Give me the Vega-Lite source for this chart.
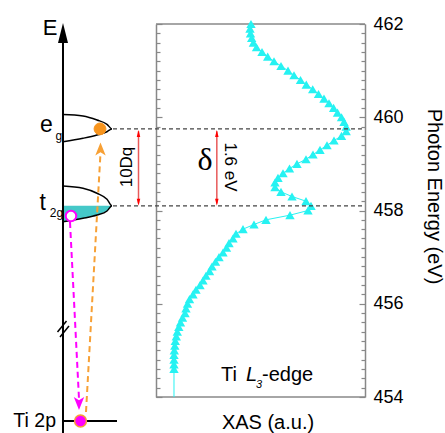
{
  "$schema": "https://vega.github.io/schema/vega-lite/v6.json",
  "width": 365,
  "height": 373,
  "autosize": {"type": "none"},
  "padding": {"left": 0, "top": 24, "right": 80, "bottom": 36},
  "background": "white",
  "config": {"view": {"stroke": null}, "font": "Liberation Sans"},
  "datasets": {
    "xas": [
      {"E": 462.0, "xas": 45.45}, {"E": 461.9, "xas": 44.98}, {"E": 461.8, "xas": 45.22}, {"E": 461.7, "xas": 45.79},
      {"E": 461.6, "xas": 46.6}, {"E": 461.5, "xas": 48.09}, {"E": 461.4, "xas": 50.72}, {"E": 461.3, "xas": 53.44},
      {"E": 461.2, "xas": 56.46}, {"E": 461.1, "xas": 59.81}, {"E": 461.0, "xas": 63.16}, {"E": 460.9, "xas": 66.03},
      {"E": 460.8, "xas": 69.14}, {"E": 460.7, "xas": 71.91}, {"E": 460.6, "xas": 74.98}, {"E": 460.5, "xas": 77.75},
      {"E": 460.4, "xas": 80.38}, {"E": 460.3, "xas": 82.78}, {"E": 460.2, "xas": 84.98}, {"E": 460.1, "xas": 86.84},
      {"E": 460.0, "xas": 88.76}, {"E": 459.9, "xas": 89.95}, {"E": 459.8, "xas": 91.0}, {"E": 459.7, "xas": 91.0},
      {"E": 459.6, "xas": 88.76}, {"E": 459.5, "xas": 85.17}, {"E": 459.4, "xas": 81.82}, {"E": 459.3, "xas": 78.47},
      {"E": 459.2, "xas": 75.12}, {"E": 459.1, "xas": 71.77}, {"E": 459.0, "xas": 67.46}, {"E": 458.9, "xas": 63.88},
      {"E": 458.8, "xas": 60.77}, {"E": 458.7, "xas": 58.37}, {"E": 458.6, "xas": 56.94}, {"E": 458.5, "xas": 56.94},
      {"E": 458.4, "xas": 59.81}, {"E": 458.3, "xas": 65.07}, {"E": 458.2, "xas": 71.77}, {"E": 458.1, "xas": 74.16},
      {"E": 458.0, "xas": 72.73}, {"E": 457.9, "xas": 64.11}, {"E": 457.8, "xas": 52.63}, {"E": 457.7, "xas": 46.89},
      {"E": 457.6, "xas": 41.63}, {"E": 457.5, "xas": 38.28}, {"E": 457.4, "xas": 36.84}, {"E": 457.3, "xas": 34.93},
      {"E": 457.2, "xas": 33.73}, {"E": 457.1, "xas": 32.06}, {"E": 457.0, "xas": 30.14}, {"E": 456.9, "xas": 28.47},
      {"E": 456.8, "xas": 26.79}, {"E": 456.7, "xas": 25.6}, {"E": 456.6, "xas": 23.92}, {"E": 456.5, "xas": 22.49},
      {"E": 456.4, "xas": 21.05}, {"E": 456.3, "xas": 19.14}, {"E": 456.2, "xas": 17.7}, {"E": 456.1, "xas": 16.03},
      {"E": 456.0, "xas": 15.07}, {"E": 455.9, "xas": 14.35}, {"E": 455.8, "xas": 13.88}, {"E": 455.7, "xas": 12.68},
      {"E": 455.6, "xas": 11.72}, {"E": 455.5, "xas": 10.91}, {"E": 455.4, "xas": 10.19}, {"E": 455.3, "xas": 9.71},
      {"E": 455.2, "xas": 9.23}, {"E": 455.1, "xas": 9.0}, {"E": 455.0, "xas": 8.76}, {"E": 454.9, "xas": 8.61},
      {"E": 454.8, "xas": 8.61}, {"E": 454.7, "xas": 8.61}, {"E": 454.6, "xas": 8.61}, {"E": 454.0, "xas": 8.61}
    ],
    "levels": [
      {"lvl": "eg", "i": 0, "x": -44.5, "E": 460.059}, {"lvl": "eg", "i": 1, "x": -34.93, "E": 460.027},
      {"lvl": "eg", "i": 2, "x": -28.23, "E": 459.941}, {"lvl": "eg", "i": 3, "x": -23.44, "E": 459.849},
      {"lvl": "eg", "i": 4, "x": -21.05, "E": 459.75}, {"lvl": "eg", "i": 5, "x": -23.44, "E": 459.69},
      {"lvl": "eg", "i": 6, "x": -28.23, "E": 459.619}, {"lvl": "eg", "i": 7, "x": -34.93, "E": 459.549},
      {"lvl": "eg", "i": 8, "x": -44.5, "E": 459.476},
      {"lvl": "t2g", "i": 0, "x": -44.5, "E": 458.525}, {"lvl": "t2g", "i": 1, "x": -34.93, "E": 458.476},
      {"lvl": "t2g", "i": 2, "x": -28.23, "E": 458.369}, {"lvl": "t2g", "i": 3, "x": -23.44, "E": 458.24},
      {"lvl": "t2g", "i": 4, "x": -21.05, "E": 458.1}, {"lvl": "t2g", "i": 5, "x": -23.44, "E": 457.989},
      {"lvl": "t2g", "i": 6, "x": -28.23, "E": 457.903}, {"lvl": "t2g", "i": 7, "x": -34.93, "E": 457.833},
      {"lvl": "t2g", "i": 8, "x": -44.5, "E": 457.76}
    ],
    "hatch": [
      {"x": -44.5, "lo": 457.76}, {"x": -34.93, "lo": 457.833}, {"x": -28.23, "lo": 457.903},
      {"x": -23.44, "lo": 457.989}, {"x": -21.05, "lo": 458.1}
    ],
    "dash": [{"E": 459.75}, {"E": 458.1}],
    "redheads": [
      {"x": -8.37, "E": 459.652, "d": "up"}, {"x": -8.37, "E": 458.178, "d": "down"},
      {"x": 29.1, "E": 459.652, "d": "up"}, {"x": 29.1, "E": 458.178, "d": "down"}
    ],
    "redlines": [{"x": -8.37}, {"x": 29.1}]
  },
  "resolve": {"axis": {"y": "independent"}},
  "layer": [
    {
      "data": {"values": [{}]},
      "mark": {"type": "rule", "color": "#888888", "strokeWidth": 1.5},
      "encoding": {
        "x": {"datum": 0, "type": "quantitative", "scale": {"domain": [-74.64, 100], "nice": false, "zero": false}, "axis": null},
        "x2": {"datum": 100},
        "y": {"datum": 462, "type": "quantitative", "scale": {"domain": [454, 462], "nice": false, "zero": false},
          "axis": {"orient": "left", "offset": -156, "values": [454, 456, 458, 460, 462], "tickSize": -6, "tickColor": "#888888", "tickWidth": 1.2, "labels": false, "title": null, "domainColor": "#888888", "domainWidth": 1.5, "grid": false}}
      }
    },
    {
      "data": {"values": [{}]},
      "mark": {"type": "rule", "color": "#888888", "strokeWidth": 1.5},
      "encoding": {
        "x": {"datum": 0, "type": "quantitative", "axis": null},
        "x2": {"datum": 100},
        "y": {"datum": 454, "type": "quantitative",
          "axis": {"orient": "left", "offset": -156, "values": [454.2, 454.4, 454.6, 454.8, 455, 455.2, 455.4, 455.6, 455.8, 456.2, 456.4, 456.6, 456.8, 457, 457.2, 457.4, 457.6, 457.8, 458.2, 458.4, 458.6, 458.8, 459, 459.2, 459.4, 459.6, 459.8, 460.2, 460.4, 460.6, 460.8, 461, 461.2, 461.4, 461.6, 461.8], "tickSize": -4, "tickColor": "#888888", "tickWidth": 1.2, "labels": false, "title": null, "domain": false, "grid": false}}
      }
    },
    {
      "data": {"name": "xas"},
      "mark": {"type": "line", "color": "#26f2f2", "strokeWidth": 1},
      "encoding": {
        "x": {"field": "xas", "type": "quantitative", "axis": null},
        "y": {"field": "E", "type": "quantitative",
          "axis": {"orient": "right", "values": [454, 456, 458, 460, 462], "tickSize": -6, "tickColor": "#888888", "tickWidth": 1.2, "domainColor": "#888888", "domainWidth": 1.5, "grid": false, "labelFontSize": 18, "labelColor": "#000000", "labelPadding": 14, "labelFont": "Liberation Sans",
            "title": "Photon Energy (eV)", "titleFontSize": 20, "titleFontWeight": "normal", "titleColor": "#000000", "titleFont": "Liberation Sans", "titleAngle": 90, "titleX": 68, "titleY": 172, "titleAlign": "center", "titleBaseline": "middle"}},
        "order": {"field": "E", "type": "quantitative"}
      }
    },
    {
      "data": {"name": "xas"},
      "transform": [{"filter": "datum.E >= 454.55"}],
      "mark": {"type": "point", "shape": "triangle-up", "filled": true, "color": "#26f2f2", "opacity": 1, "size": 88},
      "encoding": {
        "x": {"field": "xas", "type": "quantitative", "axis": null},
        "y": {"field": "E", "type": "quantitative",
          "axis": {"orient": "right", "values": [454.2, 454.4, 454.6, 454.8, 455, 455.2, 455.4, 455.6, 455.8, 456.2, 456.4, 456.6, 456.8, 457, 457.2, 457.4, 457.6, 457.8, 458.2, 458.4, 458.6, 458.8, 459, 459.2, 459.4, 459.6, 459.8, 460.2, 460.4, 460.6, 460.8, 461, 461.2, 461.4, 461.6, 461.8], "tickSize": -4, "tickColor": "#888888", "tickWidth": 1.2, "labels": false, "title": null, "domain": false, "grid": false}}
      }
    },
    {
      "data": {"name": "dash"},
      "mark": {"type": "rule", "color": "#444444", "strokeWidth": 1.3, "strokeDash": [4, 3]},
      "encoding": {
        "x": {"datum": -20.57, "type": "quantitative", "axis": null},
        "x2": {"datum": 100},
        "y": {"field": "E", "type": "quantitative", "axis": null}
      }
    },
    {
      "data": {"name": "hatch"},
      "mark": {"type": "area", "color": "#45c8c8", "opacity": 1},
      "encoding": {
        "x": {"field": "x", "type": "quantitative", "axis": null},
        "y": {"field": "lo", "type": "quantitative", "axis": null},
        "y2": {"datum": 458.1}
      }
    },
    {
      "data": {"name": "levels"},
      "mark": {"type": "line", "color": "#000000", "strokeWidth": 1.5, "interpolate": "monotone"},
      "encoding": {
        "x": {"field": "x", "type": "quantitative", "axis": null},
        "y": {"field": "E", "type": "quantitative", "axis": null},
        "detail": {"field": "lvl"},
        "order": {"field": "i", "type": "quantitative"}
      }
    },
    {
      "data": {"values": [{}]},
      "mark": {"type": "rule", "color": "#000000", "strokeWidth": 2},
      "encoding": {
        "x": {"datum": -44.5, "type": "quantitative", "axis": null},
        "y": {"datum": 453.1, "type": "quantitative", "axis": null},
        "y2": {"datum": 461.75}
      }
    },
    {
      "data": {"values": [{}]},
      "mark": {"type": "point", "shape": "M0,-1L0.5,1L-0.5,1Z", "filled": true, "color": "#000000", "opacity": 1, "size": 400},
      "encoding": {
        "x": {"datum": -44.5, "type": "quantitative", "axis": null},
        "y": {"datum": 461.807, "type": "quantitative", "axis": null}
      }
    },
    {
      "data": {"values": [{}]},
      "mark": {"type": "rule", "color": "#000000", "strokeWidth": 1.5},
      "encoding": {
        "x": {"datum": -47.13, "type": "quantitative", "axis": null},
        "y": {"datum": 455.394, "type": "quantitative", "axis": null},
        "x2": {"datum": -42.82},
        "y2": {"datum": 455.63}
      }
    },
    {
      "data": {"values": [{}]},
      "mark": {"type": "rule", "color": "#000000", "strokeWidth": 1.5},
      "encoding": {
        "x": {"datum": -45.93, "type": "quantitative", "axis": null},
        "y": {"datum": 455.287, "type": "quantitative", "axis": null},
        "x2": {"datum": -41.63},
        "y2": {"datum": 455.523}
      }
    },
    {
      "data": {"values": [{}]},
      "mark": {"type": "rule", "color": "#000000", "strokeWidth": 2},
      "encoding": {
        "x": {"datum": -44.5, "type": "quantitative", "axis": null},
        "x2": {"datum": -18.66},
        "y": {"datum": 453.485, "type": "quantitative", "axis": null}
      }
    },
    {
      "data": {"name": "redlines"},
      "mark": {"type": "rule", "color": "#e85a5a", "strokeWidth": 1.5},
      "encoding": {
        "x": {"field": "x", "type": "quantitative", "axis": null},
        "y": {"datum": 459.7, "type": "quantitative", "axis": null},
        "y2": {"datum": 458.15}
      }
    },
    {
      "data": {"name": "redheads"},
      "mark": {"type": "point", "filled": true, "color": "#ff0000", "opacity": 1, "size": 50},
      "encoding": {
        "x": {"field": "x", "type": "quantitative", "axis": null},
        "y": {"field": "E", "type": "quantitative", "axis": null},
        "shape": {"field": "d", "type": "nominal", "scale": {"domain": ["up", "down"], "range": ["M0,-1L0.5,1L-0.5,1Z", "M0,1L0.5,-1L-0.5,-1Z"]}, "legend": null}
      }
    },
    {
      "data": {"values": [{}]},
      "mark": {"type": "rule", "color": "#ff00ff", "strokeWidth": 2, "strokeDash": [6, 4]},
      "encoding": {
        "x": {"datum": -41.15, "type": "quantitative", "axis": null},
        "y": {"datum": 457.753, "type": "quantitative", "axis": null},
        "x2": {"datum": -36.84},
        "y2": {"datum": 453.957}
      }
    },
    {
      "data": {"values": [{}]},
      "mark": {"type": "point", "shape": "M0,1L-0.8,-1L0,-0.5L0.8,-1Z", "filled": true, "color": "#ff00ff", "opacity": 1, "size": 169},
      "encoding": {
        "x": {"datum": -36.84, "type": "quantitative", "axis": null},
        "y": {"datum": 453.861, "type": "quantitative", "axis": null}
      }
    },
    {
      "data": {"values": [{}]},
      "mark": {"type": "rule", "color": "#f7a035", "strokeWidth": 2, "strokeDash": [6, 4]},
      "encoding": {
        "x": {"datum": -33.49, "type": "quantitative", "axis": null},
        "y": {"datum": 453.678, "type": "quantitative", "axis": null},
        "x2": {"datum": -26.56},
        "y2": {"datum": 459.233}
      }
    },
    {
      "data": {"values": [{}]},
      "mark": {"type": "point", "shape": "M0,-1L0.8,1L0,0.5L-0.8,1Z", "filled": true, "color": "#f7a035", "opacity": 1, "size": 169},
      "encoding": {
        "x": {"datum": -26.56, "type": "quantitative", "axis": null},
        "y": {"datum": 459.319, "type": "quantitative", "axis": null}
      }
    },
    {
      "data": {"values": [{}]},
      "mark": {"type": "point", "shape": "circle", "fill": "#f7941d", "stroke": "#f7941d", "strokeWidth": 1, "opacity": 1, "size": 140},
      "encoding": {
        "x": {"datum": -26.79, "type": "quantitative", "axis": null},
        "y": {"datum": 459.75, "type": "quantitative", "axis": null}
      }
    },
    {
      "data": {"values": [{}]},
      "mark": {"type": "point", "shape": "circle", "fill": "#ffffff", "stroke": "#ff00ff", "strokeWidth": 2, "opacity": 1, "size": 110},
      "encoding": {
        "x": {"datum": -40.67, "type": "quantitative", "axis": null},
        "y": {"datum": 457.882, "type": "quantitative", "axis": null}
      }
    },
    {
      "data": {"values": [{}]},
      "mark": {"type": "point", "shape": "circle", "fill": "#ff00ff", "stroke": "#f7a035", "strokeWidth": 1.5, "opacity": 1, "size": 140},
      "encoding": {
        "x": {"datum": -36.12, "type": "quantitative", "axis": null},
        "y": {"datum": 453.485, "type": "quantitative", "axis": null}
      }
    },
    {
      "data": {"values": [{}]},
      "mark": {"type": "text", "text": "E", "fontSize": 22, "align": "center", "baseline": "alphabetic", "color": "#000000"},
      "encoding": {
        "x": {"datum": -50.72, "type": "quantitative", "axis": null},
        "y": {"datum": 461.764, "type": "quantitative", "axis": null}
      }
    },
    {
      "data": {"values": [{}]},
      "mark": {"type": "text", "text": "e", "fontSize": 23, "align": "center", "baseline": "alphabetic", "color": "#000000"},
      "encoding": {
        "x": {"datum": -52.4, "type": "quantitative", "axis": null},
        "y": {"datum": 459.684, "type": "quantitative", "axis": null}
      }
    },
    {
      "data": {"values": [{}]},
      "mark": {"type": "text", "text": "g", "fontSize": 12, "align": "center", "baseline": "alphabetic", "color": "#000000"},
      "encoding": {
        "x": {"datum": -46.5, "type": "quantitative", "axis": null},
        "y": {"datum": 459.51, "type": "quantitative", "axis": null}
      }
    },
    {
      "data": {"values": [{}]},
      "mark": {"type": "text", "text": "t", "fontSize": 23, "align": "center", "baseline": "alphabetic", "color": "#000000"},
      "encoding": {
        "x": {"datum": -54.2, "type": "quantitative", "axis": null},
        "y": {"datum": 458.011, "type": "quantitative", "axis": null}
      }
    },
    {
      "data": {"values": [{}]},
      "mark": {"type": "text", "text": "2g", "fontSize": 12, "align": "center", "baseline": "alphabetic", "color": "#000000"},
      "encoding": {
        "x": {"datum": -47.6, "type": "quantitative", "axis": null},
        "y": {"datum": 457.866, "type": "quantitative", "axis": null}
      }
    },
    {
      "data": {"values": [{}]},
      "mark": {"type": "text", "text": "10Dq", "fontSize": 17, "angle": 270, "align": "center", "baseline": "middle", "color": "#000000"},
      "encoding": {
        "x": {"datum": -13.88, "type": "quantitative", "axis": null},
        "y": {"datum": 458.933, "type": "quantitative", "axis": null}
      }
    },
    {
      "data": {"values": [{}]},
      "mark": {"type": "text", "text": "δ", "font": "Liberation Serif", "fontSize": 32, "align": "center", "baseline": "alphabetic", "color": "#000000"},
      "encoding": {
        "x": {"datum": 23.44, "type": "quantitative", "axis": null},
        "y": {"datum": 458.869, "type": "quantitative", "axis": null}
      }
    },
    {
      "data": {"values": [{}]},
      "mark": {"type": "text", "text": "1.6 eV", "fontSize": 17, "angle": 90, "align": "center", "baseline": "middle", "color": "#000000"},
      "encoding": {
        "x": {"datum": 35.41, "type": "quantitative", "axis": null},
        "y": {"datum": 458.933, "type": "quantitative", "axis": null}
      }
    },
    {
      "data": {"values": [{}]},
      "mark": {"type": "text", "text": "Ti 2p", "fontSize": 19.5, "align": "right", "baseline": "middle", "color": "#000000"},
      "encoding": {
        "x": {"datum": -47.85, "type": "quantitative", "axis": null},
        "y": {"datum": 453.485, "type": "quantitative", "axis": null}
      }
    },
    {
      "data": {"values": [{}]},
      "mark": {"type": "text", "text": "Ti", "fontSize": 20, "align": "left", "baseline": "alphabetic", "color": "#000000"},
      "encoding": {
        "x": {"datum": 31.1, "type": "quantitative", "axis": null},
        "y": {"datum": 454.343, "type": "quantitative", "axis": null}
      }
    },
    {
      "data": {"values": [{}]},
      "mark": {"type": "text", "text": "L", "fontSize": 20, "fontStyle": "italic", "align": "left", "baseline": "alphabetic", "color": "#000000"},
      "encoding": {
        "x": {"datum": 43.06, "type": "quantitative", "axis": null},
        "y": {"datum": 454.343, "type": "quantitative", "axis": null}
      }
    },
    {
      "data": {"values": [{}]},
      "mark": {"type": "text", "text": "3", "fontSize": 11, "fontStyle": "italic", "align": "left", "baseline": "alphabetic", "color": "#000000"},
      "encoding": {
        "x": {"datum": 47.85, "type": "quantitative", "axis": null},
        "y": {"datum": 454.193, "type": "quantitative", "axis": null}
      }
    },
    {
      "data": {"values": [{}]},
      "mark": {"type": "text", "text": "-edge", "fontSize": 20, "align": "left", "baseline": "alphabetic", "color": "#000000"},
      "encoding": {
        "x": {"datum": 50.72, "type": "quantitative", "axis": null},
        "y": {"datum": 454.343, "type": "quantitative", "axis": null}
      }
    },
    {
      "data": {"values": [{}]},
      "mark": {"type": "text", "text": "XAS (a.u.)", "fontSize": 20, "align": "center", "baseline": "alphabetic", "color": "#000000"},
      "encoding": {
        "x": {"datum": 53.59, "type": "quantitative", "axis": null},
        "y": {"datum": 453.314, "type": "quantitative", "axis": null}
      }
    }
  ]
}
